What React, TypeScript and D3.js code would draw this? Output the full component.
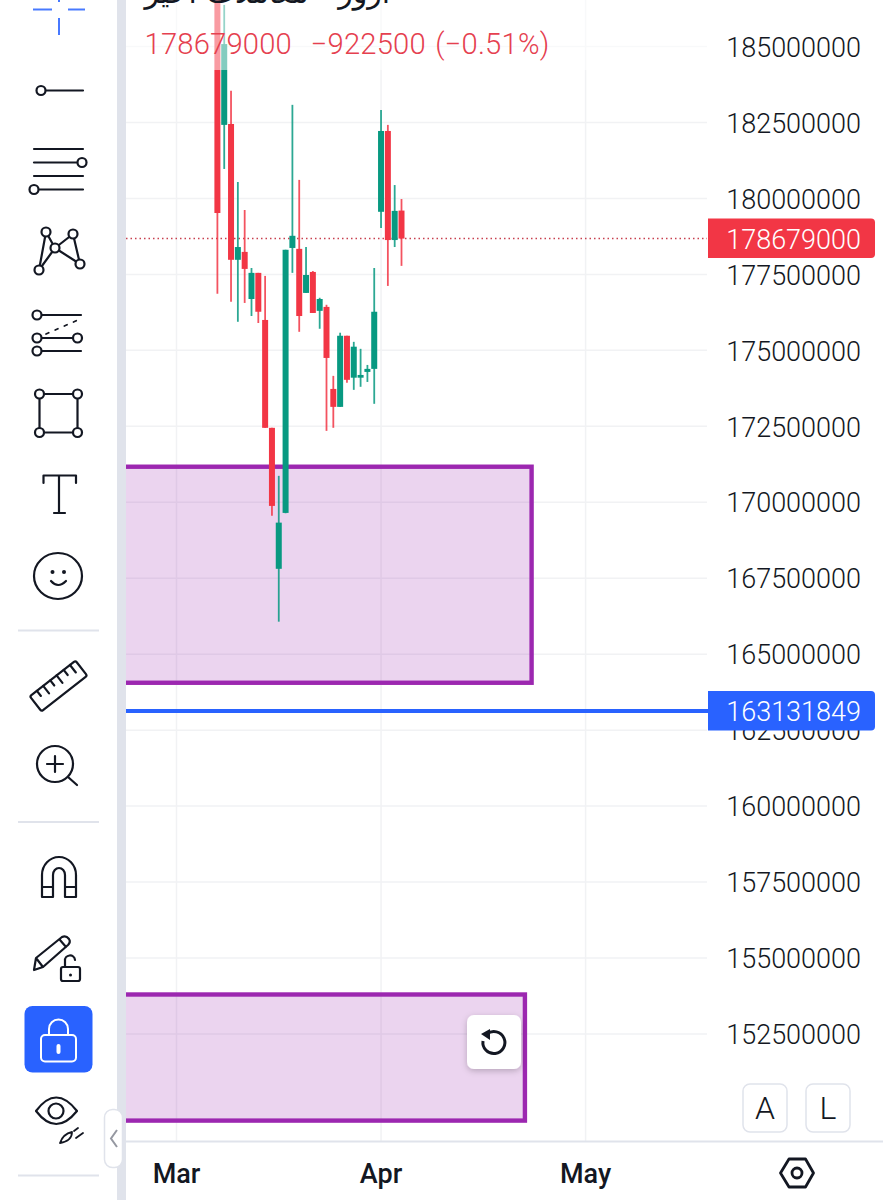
import React from "react";
import * as d3 from "d3";

const W = 883, H = 1200;
// prices in millions
const opens  = [187.5,182.42,182.45,177.98,178.24,176.69,177.55,176.0,172.45,167.81,169.65,178.37,178.34,176.89,177.58,176.3,176.43,173.73,173.14,175.48,174.1,174.1,174.29,174.39,179.56,182.22,178.63,179.6];
const highs  = [188.5,186.37,183.54,180.54,179.62,177.71,177.55,177.45,172.45,170.87,178.31,183.08,180.61,178.4,177.61,176.73,176.5,174.16,175.58,175.48,175.28,175.05,174.52,177.71,182.91,182.42,180.44,179.98];
const lows   = [176.86,180.97,176.6,175.94,176.56,176.13,175.9,172.45,169.56,166.07,169.64,177.55,175.61,176.89,176.23,175.71,172.35,172.45,173.14,173.93,173.7,173.8,173.96,173.24,179.03,177.12,178.4,177.78];
const closes = [179.52,185.08,177.98,178.4,177.68,177.55,176.27,172.45,169.88,169.33,178.31,178.77,176.13,177.48,176.23,176.69,174.75,173.14,175.48,174.03,175.12,174.19,174.39,176.27,182.22,178.63,179.59,178.679];

const priceTicks = [185,182.5,180,177.5,175,172.5,170,167.5,165,162.5,160,157.5,155,152.5];
const monthLabels = ["Mar","Apr","May"];
const monthIdx = [-6,24,54];

const zoneTop = [171.17,153.8];
const zoneBottom = [164.06,149.65];
const zoneEnd = [46.08,45.1];

const lastPrice = 178.679;
const linePrice = 163.131849;

const y = d3.scaleLinear().domain([185,152.5]).range([46.5,1034]);
const x = d3.scaleLinear().domain([0,27]).range([217.4,401.5]);

const RED = "#f23645", GREEN = "#089981", BLUE = "#2962ff", PURPLE = "#9c27b0", GRID = "#f1f2f4", BORDER = "#e0e3eb", INK = "#131722";
const PL = 126, PR = 707, PB = 1141;
const FONT = "Roboto, sans-serif";

const fmt = (v:number) => String(Math.round(v*1e6));

function Tools() {
  const s = {fill:"none",stroke:INK,strokeWidth:2.2,strokeLinecap:"round" as const,strokeLinejoin:"round" as const};
  const c = (cx:number,cy:number,r=4.5) => <circle cx={cx} cy={cy} r={r} fill="#fff" stroke={INK} strokeWidth={2.2}/>;
  const l = (a:number,b:number,c2:number,d:number) => <line x1={a} y1={b} x2={c2} y2={d}/>;
  return <g>
    <g stroke={BLUE} strokeWidth={2} opacity={0.85}>
      {l(33,9.5,52,9.5)}{l(68,9.5,85,9.5)}{l(59,18,59,35)}{l(59,-5,59,2)}
    </g>
    <g {...s}>
      {l(45,90.5,83,90.5)}
      {l(34,149,83,149)}{l(34,162.5,83,162.5)}{l(34,176,83,176)}{l(38,189.5,83,189.5)}
      {l(39,270,46,232)}{l(46,232,55,248)}{l(39,270,55,248)}{l(55,248,73,234)}{l(73,234,80,264)}{l(55,248,80,264)}
      {l(41,315,81,315)}{l(41,338,74,338)}{l(41,351,81,351)}
      <line x1={46} y1={334} x2={78} y2={320} strokeDasharray="3 7" strokeWidth={1.8}/>
      <rect x={39.5} y={394} width={38} height={38.5}/>
      <path d="M43.5 483V475.5H76V483M59 475.5V513M54 513H65"/>
      <ellipse cx={58} cy={576} rx={24} ry={23}/>
      <path d="M51 581Q58 589 66 581"/>
    </g>
    {c(41,90.5)}{c(82,162.5)}{c(34,189.5)}
    {c(46,232)}{c(73,234)}{c(55,248)}{c(80,264)}{c(39,270)}
    {c(37,315)}{c(37,338)}{c(77.5,338)}{c(37,351)}
    {c(39.5,394)}{c(77.5,394)}{c(39.5,432.5)}{c(77.5,432.5)}
    <circle cx={52.5} cy={572} r={2} fill={INK}/><circle cx={64} cy={572} r={2} fill={INK}/>

    <g stroke={BORDER} strokeWidth={2}>{l(18,630.5,99,630.5)}{l(18,822,99,822)}{l(18,1175.5,99,1175.5)}</g>

    <g {...s}>
      <g transform="translate(58.5,686) rotate(-38)">
        <rect x={-29} y={-9.5} width={58} height={19} rx={2}/>
        <path d="M-20 -9.5V-3M-12 -9.5V0M-3 -9.5V-3M5 -9.5V0M14 -9.5V-3M22 -9.5V0"/>
      </g>
      <circle cx={55} cy={764} r={18}/>
      <path d="M47 764H63M55 756V772M68 777L77 785"/>
      <path d="M42 897V875A17 18 0 0 1 76 875V897H65V875A6 7 0 0 0 53 875V897ZM42 887H53M65 887H76"/>
      <path d="M34 970L36 958L62 937Q66 935 69 939Q71 942 68 945L43 967ZM36 958L43 967M60 940L66 947"/>
      <rect x={61} y={967} width={19} height={14} rx={2}/>
      <path d="M65 967V961A5 5 0 0 1 75 960"/>
      <path d="M36 1111Q56 1084 77 1111Q56 1137 36 1111Z"/>
      <circle cx={56} cy={1111} r={7.5}/>
      <path d="M60 1143Q63 1134 72 1132Q72 1141 60 1143ZM74 1131L78 1128M76 1138L83 1133" strokeWidth={1.8}/>
    </g>
    <circle cx={70.5} cy={975} r={1.5} fill={INK}/>
    <rect x={24.5} y={1006} width={68} height={66.5} rx={8} fill={BLUE}/>
    <g fill="none" stroke="#fff" strokeWidth={2}>
      <rect x={41} y={1035} width={35} height={26.5} rx={4}/>
      <path d="M49 1035V1029A9.5 9.5 0 0 1 68 1029V1035"/>
    </g>
    <rect x={56.5} y={1044} width={4} height={10} rx={2} fill="#fff"/>
  </g>;
}

export default function App() {
  return (
    <svg width={W} height={H} viewBox={`0 0 ${W} ${H}`} style={{position:"absolute",left:0,top:0,display:"block",background:"#fff"}}>
      <defs>
        <clipPath id="plot"><rect x={PL} y={0} width={PR-PL+1} height={PB}/></clipPath>
        <filter id="sh" x="-30%" y="-30%" width="160%" height="170%"><feDropShadow dx={0} dy={2} stdDeviation={3} floodColor="#000" floodOpacity={0.22}/></filter>
      </defs>

      <g clipPath="url(#plot)">
        {priceTicks.map(t => <line key={t} x1={PL} x2={PR} y1={y(t)} y2={y(t)} stroke={GRID} strokeWidth={1.5}/>)}
        {monthIdx.map(i => <line key={i} x1={x(i)} x2={x(i)} y1={0} y2={PB} stroke={GRID} strokeWidth={1.5}/>)}
        {zoneTop.map((t,i) => (
          <rect key={i} x={PL-20} y={y(t)} width={x(zoneEnd[i])-PL+20} height={y(zoneBottom[i])-y(t)}
            fill={PURPLE} fillOpacity={0.2} stroke={PURPLE} strokeWidth={4.4}/>
        ))}
        <line x1={PL} x2={PR} y1={y(lastPrice)} y2={y(lastPrice)} stroke="#c8404f" strokeWidth={1.5} strokeDasharray="1.5 3"/>
        <line x1={PL} x2={PR+2} y1={y(linePrice)} y2={y(linePrice)} stroke={BLUE} strokeWidth={4}/>
        {opens.map((o,i) => {
          const col = closes[i] >= o ? GREEN : RED;
          const top = y(Math.max(o,closes[i])), bot = y(Math.min(o,closes[i]));
          return <g key={i}>
            <line x1={x(i)} x2={x(i)} y1={y(highs[i])} y2={y(lows[i])} stroke={col} strokeWidth={1.8} opacity={0.85}/>
            <rect x={x(i)-3} width={6} y={top} height={Math.max(bot-top,1)} fill={col}/>
          </g>;
        })}
        <rect x={PL} y={0} width={PR-PL} height={70} fill="#fff" fillOpacity={0.5}/>
      </g>

      <text x={390} y={3} fontFamily="'DejaVu Sans', sans-serif" fontSize={30} fill={INK} direction="rtl" textAnchor="start">آرور - معاملات اخیر</text>
      <text x={144.5} y={54} fontFamily={FONT} fontSize={29.2} fontWeight={300} wordSpacing={2} letterSpacing={0.2} fill="#e5404f" xmlSpace="preserve">{`${fmt(lastPrice)}  −922500 (−0.51%)`}</text>

      {priceTicks.map(t => <text key={t} x={861} y={y(t)+0.5} dy="0.36em" textAnchor="end" fontFamily={FONT} fontSize={27} fontWeight={300} fill={INK}>{fmt(t)}</text>)}

      {[{v:lastPrice,c:RED},{v:linePrice,c:BLUE}].map(({v,c}) => (
        <g key={c}>
          <path d={`M708 ${y(v)-20}H871a4 4 0 0 1 4 4V${y(v)+15.5}a4 4 0 0 1 -4 4H708Z`} fill={c}/>
          <text x={861} y={y(v)+0.5} dy="0.36em" textAnchor="end" fontFamily={FONT} fontSize={27} fontWeight={300} fill="#fff">{fmt(v)}</text>
        </g>
      ))}

      <line x1={PL} x2={W} y1={PB+0.5} y2={PB+0.5} stroke={BORDER} strokeWidth={2}/>
      {monthIdx.map((i,k) => <text key={i} x={x(i)} y={1183} textAnchor="middle" fontFamily={FONT} fontSize={27} fontWeight={500} fill={INK}>{monthLabels[k]}</text>)}

      <rect x={467} y={1015} width={54} height={54} rx={7} fill="#fff" filter="url(#sh)"/>
      <path d="M487 1034A11 11 0 1 1 483 1041" fill="none" stroke={INK} strokeWidth={3}/>
      <path d="M490 1029V1040L481 1034Z" fill={INK}/>

      {[["A",743],["L",806]].map(([s,xx]) => <g key={s as string}>
        <rect x={xx as number} y={1084} width={44} height={48} rx={7} fill="#fff" stroke={BORDER} strokeWidth={1.5}/>
        <text x={(xx as number)+22} y={1119} textAnchor="middle" fontFamily={FONT} fontSize={32} fontWeight={300} fill={INK}>{s}</text>
      </g>)}

      <path d="M780.5 1173L789 1159H805.5L813.5 1173L805.5 1187H789Z" fill="none" stroke={INK} strokeWidth={2.8} strokeLinejoin="round"/>
      <circle cx={797} cy={1173} r={5} fill="none" stroke={INK} strokeWidth={2.8}/>

      <rect x={117} y={0} width={9} height={H} fill={BORDER}/>
      <rect x={0} y={0} width={117} height={H} fill="#fff"/>
      <Tools/>
      <rect x={104.5} y={1109.5} width={18} height={58} rx={8} fill="#fff" stroke={BORDER} strokeWidth={1.5}/>
      <path d="M117 1130L111 1138.5L117 1147" fill="none" stroke="#9598a1" strokeWidth={2}/>
    </svg>
  );
}
